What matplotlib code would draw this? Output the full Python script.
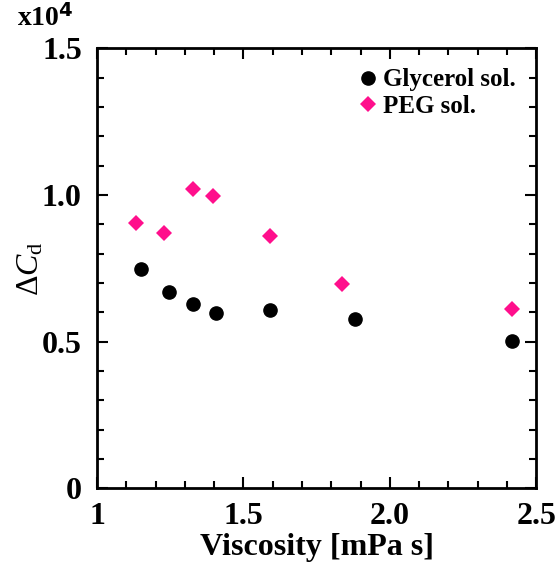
import matplotlib
matplotlib.use('Agg')
import matplotlib.pyplot as plt
from matplotlib.ticker import MultipleLocator

plt.rcParams['font.family'] = ['Liberation Serif', 'DejaVu Serif']
plt.rcParams['mathtext.fontset'] = 'custom'
plt.rcParams['mathtext.rm'] = 'Liberation Serif'
plt.rcParams['mathtext.it'] = 'Liberation Serif:italic'

# データ (x10^4)
glycerol_visc = [1.149, 1.245, 1.327, 1.406, 1.591, 1.881, 2.417]
glycerol_dcd = [0.749, 0.669, 0.628, 0.599, 0.608, 0.578, 0.501]
peg_visc = [1.133, 1.230, 1.327, 1.395, 1.591, 1.838, 2.417]
peg_dcd = [0.906, 0.869, 1.019, 0.996, 0.860, 0.697, 0.610]

x_ticks = [1, 1.5, 2.0, 2.5]
x_ticklabels = ['1', '1.5', '2.0', '2.5']
y_ticks = [0, 0.5, 1.0, 1.5]
y_ticklabels = ['0', '0.5', '1.0', '1.5']

fig = plt.figure(figsize=(5.58, 5.68), dpi=100)
ax = fig.add_axes([0.174, 0.140, 0.787, 0.775])

ax.plot(glycerol_visc, glycerol_dcd, 'o', color='black', markersize=9.5, label='Glycerol sol.')
ax.plot(peg_visc, peg_dcd, 'D', color='#FF0F8C', markersize=8.5, markeredgewidth=0, label='PEG sol.')

ax.set_xlim(1, 2.5)
ax.set_ylim(0, 1.5)
ax.set_xticks(x_ticks)
ax.set_xticklabels(x_ticklabels)
ax.set_yticks(y_ticks)
ax.set_yticklabels(y_ticklabels)
ax.xaxis.set_minor_locator(MultipleLocator(0.1))
ax.yaxis.set_minor_locator(MultipleLocator(0.1))
ax.tick_params(which='both', direction='in', top=True, right=True, width=1.5)
ax.tick_params(which='major', length=8, labelsize=23)
ax.tick_params(which='minor', length=5)
ax.tick_params(axis='x', which='major', pad=10)
ax.tick_params(axis='y', which='major', pad=11)
for lbl in ax.get_xticklabels() + ax.get_yticklabels():
    lbl.set_fontweight('bold')
for s in ax.spines.values():
    s.set_linewidth(2)

ax.set_xlabel('Viscosity [mPa s]', fontsize=23, fontweight='bold', labelpad=1)
ax.set_ylabel(r'$\mathit{ΔC}_{\mathrm{d}}$', fontsize=23)
ax.yaxis.set_label_coords(-0.118, 0.5)

fig.text(0.03, 0.955, r'x10$^{\mathbf{4}}$', fontsize=20, fontweight='bold')

leg = ax.legend(loc='upper right', frameon=False, handletextpad=-0.4, borderaxespad=0.4,
                labelspacing=0.15, prop={'weight': 'bold', 'size': 18})

fig.savefig('out.png', dpi=100)
